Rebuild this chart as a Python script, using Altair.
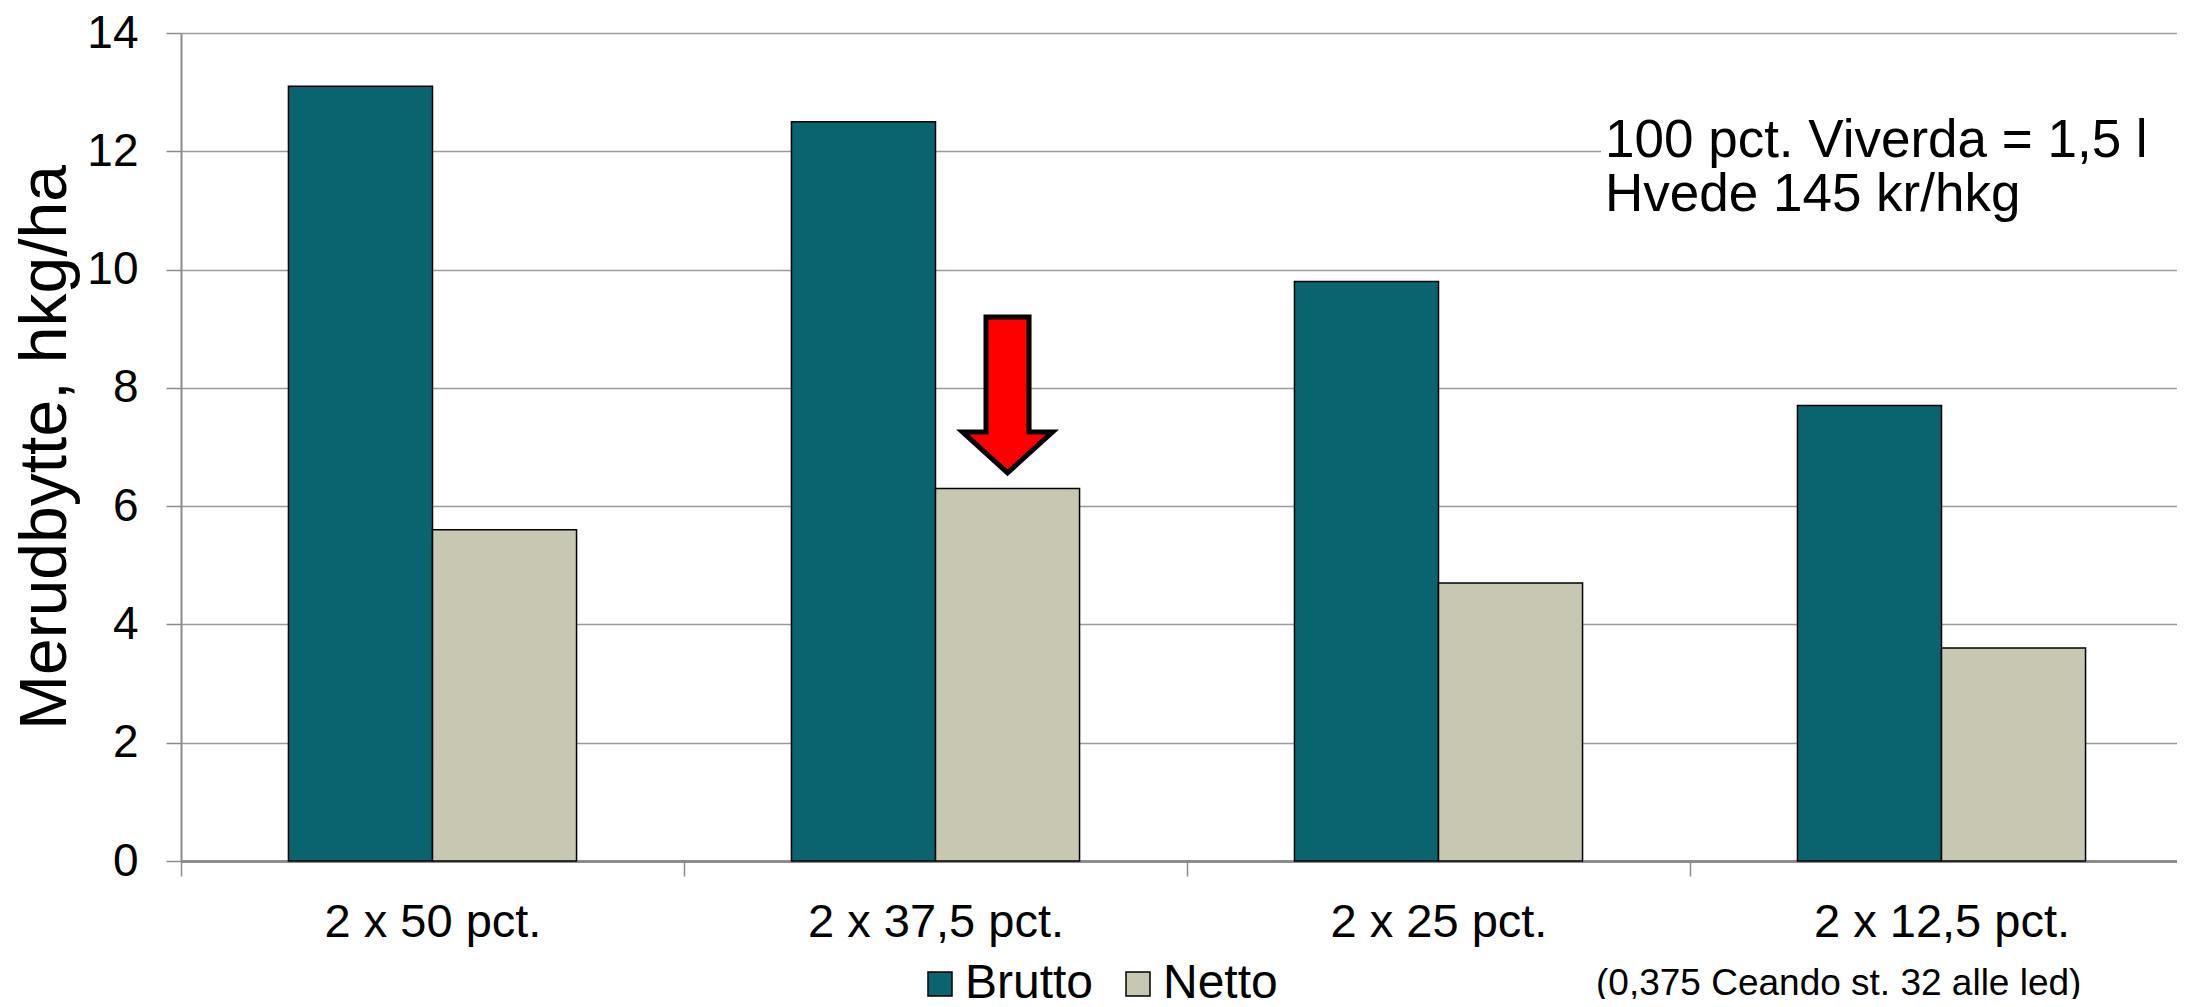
import altair as alt
import pandas as pd

categories = ["2 x 50 pct.", "2 x 37,5 pct.", "2 x 25 pct.", "2 x 12,5 pct."]
series = ["Brutto", "Netto"]
brutto = [13.1, 12.5, 9.8, 7.7]
netto = [5.6, 6.3, 4.7, 3.6]
y_ticks = [0, 2, 4, 6, 8, 10, 12, 14]
annot_lines = ["100 pct. Viverda = 1,5 l", "Hvede 145 kr/hkg"]
note_text = "(0,375 Ceando st. 32 alle led)"
arrow_cat = "2 x 37,5 pct."
arrow_serie = "Netto"
arrow_value = 7.88

rows = []
for c, b, n in zip(categories, brutto, netto):
    rows.append({"cat": c, "serie": "Brutto", "value": b})
    rows.append({"cat": c, "serie": "Netto", "value": n})
df = pd.DataFrame(rows)
arrow_df = pd.DataFrame([{"cat": arrow_cat, "serie": arrow_serie, "value": arrow_value}])
one = pd.DataFrame({"a": [0]})

FONT = "Liberation Sans"
AX = "#8c8c8c"

x_enc = alt.X(
    "cat:N",
    sort=categories,
    scale=alt.Scale(range=[0, 2012], paddingInner=0, paddingOuter=0),
    axis=alt.Axis(
        title=None, labelAngle=0, labelFontSize=47, labelFont=FONT, labelColor="black",
        labelLimit=0, tickBand="extent", ticks=True, tickSize=15, tickColor=AX, tickWidth=1.5,
        domainColor=AX, domainWidth=3, labelPadding=23, grid=False,
    ),
)
xo_enc = alt.XOffset("serie:N", sort=series,
                     scale=alt.Scale(paddingInner=0, paddingOuter=0.746))
y_enc = alt.Y(
    "value:Q",
    scale=alt.Scale(domain=[0, 14], nice=False),
    axis=alt.Axis(
        title="Merudbytte, hkg/ha", titleFontSize=66, titleFont=FONT, titleFontWeight="normal",
        titleColor="black", titleX=-116, titleY=414, titleBaseline="alphabetic", titleAlign="center",
        values=y_ticks, format="d", labelFontSize=46, labelFont=FONT, labelColor="black",
        labelPadding=28, tickSize=15, tickColor=AX, tickWidth=1.5, domainColor=AX, domainWidth=2,
        gridColor="#9a9a9a", gridWidth=1.5,
    ),
)

bars = alt.Chart(df).mark_bar(stroke="black", strokeWidth=1.5).encode(
    x=x_enc,
    xOffset=xo_enc,
    y=y_enc,
    color=alt.Color(
        "serie:N",
        scale=alt.Scale(domain=series, range=["#09646F", "#C8C8B2"]),
        legend=alt.Legend(
            title=None, orient="none", legendX=735, legendY=927, direction="horizontal",
            symbolType="square", symbolSize=576, symbolStrokeColor="black", symbolStrokeWidth=1.5,
            labelFontSize=48, labelFont=FONT, labelColor="black", labelOffset=1,
            columnPadding=20, padding=0,
        ),
    ),
)

arrow_path = "M -0.276 -1 L 0.276 -1 L 0.276 0.474 L 0.577 0.474 L 0 1 L -0.577 0.474 L -0.276 0.474 Z"
arrow = alt.Chart(arrow_df).mark_point(
    shape=arrow_path, filled=True, fill="#FF0000", stroke="black", strokeWidth=5,
    size=24336, opacity=1,
).encode(
    x=alt.X("cat:N", sort=categories),
    xOffset=alt.XOffset("serie:N", sort=series),
    y=alt.Y("value:Q"),
)

bg = alt.Chart(one).mark_rect(color="white").encode(
    x=alt.value(1420), x2=alt.value(2010), y=alt.value(95), y2=alt.value(140)
)

annot = alt.Chart(one).mark_text(
    text=annot_lines, align="left", baseline="alphabetic", fontSize=53, font=FONT,
    lineHeight=54, color="black",
).encode(x=alt.value(1424), y=alt.value(124))

note = alt.Chart(one).mark_text(
    text=note_text, align="left", baseline="alphabetic", fontSize=37, font=FONT, color="black",
).encode(x=alt.value(1415), y=alt.value(962))

chart = alt.layer(bars, bg, annot, note, arrow).properties(
    width=1996, height=828,
    autosize=alt.AutoSizeParams(type="none"),
    padding={"left": 173, "top": 25, "right": 0, "bottom": 138},
).configure_view(strokeWidth=0).configure(background="white")

chart.save("out.html", embed_options={"renderer": "svg", "actions": False})
